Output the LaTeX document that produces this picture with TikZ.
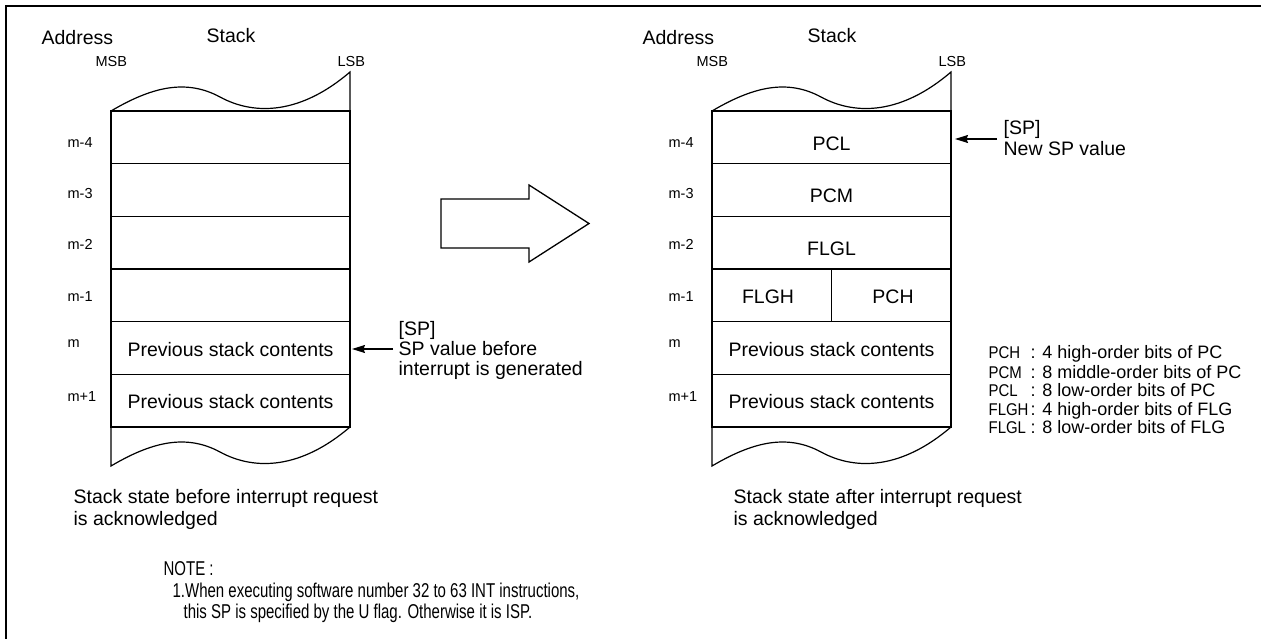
\documentclass[tikz,border=0pt]{standalone}
\usepackage{fontspec}
\usepackage{graphicx}
\setmainfont{Liberation Sans}
\usetikzlibrary{arrows.meta}
\newcommand\mainsize{\fontsize{19.5}{23}\selectfont}
\newcommand\smallsize{\fontsize{14.5}{17}\selectfont}
\newcommand\legsize{\fontsize{18}{21}\selectfont}
\newcommand\legkey[1]{\scalebox{0.88}[1]{\fontsize{17}{20}\selectfont #1}}
\newcommand\notetext[1]{\scalebox{0.75}[1]{\fontsize{20}{24}\selectfont #1}}
\newcommand\topwave[1]{\draw (#1,111) .. controls (#1+39,88) and (#1+74,78) .. (#1+109,97) .. controls (#1+144,116) and (#1+190,114) .. (#1+239,72) -- (#1+239,111);}
\newcommand\botwave[1]{\draw (#1+239,427) .. controls (#1+190,469) and (#1+144,471) .. (#1+109,452) .. controls (#1+74,433) and (#1+39,443) .. (#1,466) -- (#1,427);}
\begin{document}
\begin{tikzpicture}[x=1pt,y=-1pt,line width=1.2pt,
  cell/.style={draw,minimum width=239pt,minimum height=52.67pt,inner sep=0pt,outer sep=0pt,anchor=north west},
  ctext/.style={font=\mainsize,text height=14pt,text depth=0pt,inner sep=0pt},
  lbl/.style={font=\mainsize,anchor=base west,inner sep=0pt},
  addr/.style={font=\smallsize,anchor=base west,inner sep=0pt},
  leg/.style={font=\legsize,anchor=base west,inner sep=0pt},
  note/.style={anchor=base west,inner sep=0pt},
  sparrow/.style={line width=1.2pt,-{Stealth[length=13pt,width=8pt,inset=1.5pt]}}]
\useasboundingbox (0,0) rectangle (1261,639);
% frame
\draw[line width=2.6pt] (6,639) -- (6,6) -- (1261,6);
% two stacks
\foreach \s/\dx in {L/0,R/601}{
  \foreach \i in {0,...,5}{
    \node[cell] (\s\i) at (111+\dx,111+52.67*\i) {};
  }
  \topwave{111+\dx}
  \botwave{111+\dx}
  \node[lbl] (\s addr) at (41+\dx,45) {Address};
  \node[lbl] (\s stack) at (206+\dx,43) {Stack};
  \node[addr] (\s msb) at (95+\dx,66.5) {MSB};
  \node[addr] (\s lsb) at (337+\dx,66.5) {LSB};
  \node[addr] (\s a0) at (67+\dx,148) {m-4};
  \node[addr] (\s a1) at (67+\dx,199) {m-3};
  \node[addr] (\s a2) at (67+\dx,250) {m-2};
  \node[addr] (\s a3) at (67+\dx,301) {m-1};
  \node[addr] (\s a4) at (67+\dx,347) {m};
  \node[addr] (\s a5) at (67+\dx,401) {m+1};
  \node[ctext] (\s prev1) at (230.5+\dx,349) {Previous stack contents};
  \node[ctext] (\s prev2) at (230.5+\dx,401) {Previous stack contents};
}
% right stack contents
\draw (R3.north) -- (R3.south);
\node[ctext] (pcl) at (831.5,144) {PCL};
\node[ctext] (pcm) at (831.5,196) {PCM};
\node[ctext] (flgl) at (831.5,248) {FLGL};
\node[ctext] (flgh) at (768,296) {FLGH};
\node[ctext] (pch) at (893,296) {PCH};
% SP arrows
\coordinate (lt) at (393,349);
\draw[sparrow,shorten >=2pt] (lt) -- (lt -| L4.east);
\node[lbl] (lsp) at (398,335) {[SP]};
\node[lbl] (lsp1) at (398,355) {SP value before};
\node[lbl] (lsp2) at (398,375) {interrupt is generated};
\coordinate (rt) at (997,139);
\draw[sparrow,shorten >=4pt] (rt) -- (rt -| R0.east);
\node[lbl] (rsp) at (1003,135) {[SP]};
\node[lbl] (rsp1) at (1003,156) {New SP value};
% big arrow
\draw[line width=1.3pt,line join=miter] (441,199) -- (529,199) -- (529,185) -- (589,223.5) -- (529,262) -- (529,248) -- (441,248) -- cycle;
% captions
\node[lbl] (lc1) at (73,503) {Stack state before interrupt request};
\node[lbl] (lc2) at (73,525) {is acknowledged};
\node[lbl] (rc1) at (733,503) {Stack state after interrupt request};
\node[lbl] (rc2) at (733,525) {is acknowledged};
% legend
\node[leg] (k1) at (988,358.5) {\legkey{PCH}};
\node[leg] (k2) at (988,378.5) {\legkey{PCM}};
\node[leg] (k3) at (988,396.5) {\legkey{PCL}};
\node[leg] (k4) at (988,415.5) {\legkey{FLGH}};
\node[leg] (k5) at (988,433.5) {\legkey{FLGL}};
\node[leg] (d1) at (1030,358.5) {: 4 high-order bits of PC};
\node[leg] (d2) at (1030,378.5) {: 8 middle-order bits of PC};
\node[leg] (d3) at (1030,396.5) {: 8 low-order bits of PC};
\node[leg] (d4) at (1030,415.5) {: 4 high-order bits of FLG};
\node[leg] (d5) at (1030,433.5) {: 8 low-order bits of FLG};
% note
\node[note] (n0) at (163,575) {\notetext{NOTE :}};
\node[note] (n1) at (172,597) {\notetext{1.When executing software number 32 to 63 INT instructions,}};
\node[note] (n2) at (183,618) {\notetext{this SP is specified by the U flag. Otherwise it is ISP.}};
\end{tikzpicture}
\end{document}
